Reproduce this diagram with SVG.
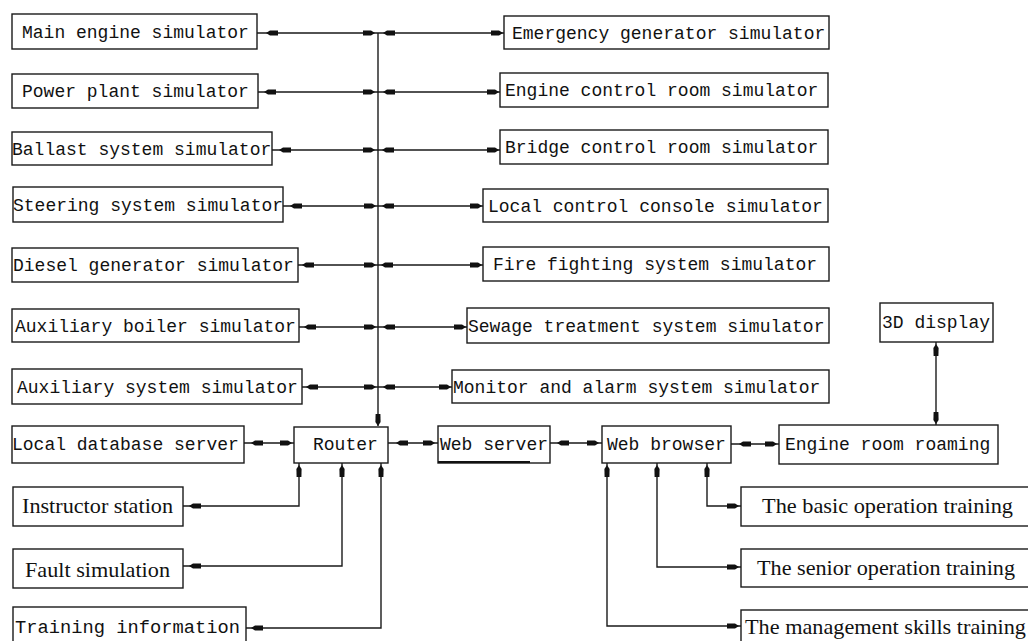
<svg xmlns="http://www.w3.org/2000/svg" xmlns:xlink="http://www.w3.org/1999/xlink" width="1028" height="641" viewBox="0 0 1028 641">
<style>
.box{fill:#fff;stroke:#1a1a1a;stroke-width:1.4}
.ln{fill:none;stroke:#1a1a1a;stroke-width:1.4}
.m{font-family:"Liberation Mono","DejaVu Sans Mono",monospace;font-size:18px;fill:#111}
.s{font-family:"Liberation Serif","Times New Roman",serif;font-size:22px;fill:#111}
</style>
<defs>
<path id="ah" d="M0,0 L-4,-2.6 L-12,-2.4 L-12,2.4 L-4,2.6 Z" fill="#111"/>
</defs>
<rect width="1028" height="641" fill="#fff"/>

<g id="connectors">
<path class="ln" d="M378,33 V426"/>
<path class="ln" d="M257,33 H378 M258,92 H378 M272,150 H378 M283,206 H378 M298,265 H378 M299,327 H378 M302,387 H378"/>
<path class="ln" d="M378,33 H504 M378,92 H500 M378,150 H500 M378,206 H483 M378,265 H483 M378,327 H467 M378,387 H452"/>
<path class="ln" d="M244,443 H294 M388,443 H438 M550,443 H602 M731,444 H779"/>
<path class="ln" d="M183,506 H299 V463 M183,566 H342 V463 M246,628 H381 V463"/>
<path class="ln" d="M707,463 V506 H741 M657,463 V567 H741 M607,463 V626 H741"/>
<path class="ln" d="M936,342 V425"/>

<use xlink:href="#ah" transform="translate(266,33) rotate(180)"/>
<use xlink:href="#ah" transform="translate(264,92) rotate(180)"/>
<use xlink:href="#ah" transform="translate(279,150) rotate(180)"/>
<use xlink:href="#ah" transform="translate(290,206) rotate(180)"/>
<use xlink:href="#ah" transform="translate(302,265) rotate(180)"/>
<use xlink:href="#ah" transform="translate(304,327) rotate(180)"/>
<use xlink:href="#ah" transform="translate(306,387) rotate(180)"/>
<use xlink:href="#ah" transform="translate(375,33)"/>
<use xlink:href="#ah" transform="translate(375,92)"/>
<use xlink:href="#ah" transform="translate(375,150)"/>
<use xlink:href="#ah" transform="translate(376,206)"/>
<use xlink:href="#ah" transform="translate(376,265)"/>
<use xlink:href="#ah" transform="translate(376,327)"/>
<use xlink:href="#ah" transform="translate(376,387)"/>
<use xlink:href="#ah" transform="translate(383,33) rotate(180)"/>
<use xlink:href="#ah" transform="translate(383,92) rotate(180)"/>
<use xlink:href="#ah" transform="translate(382,150) rotate(180)"/>
<use xlink:href="#ah" transform="translate(382,206) rotate(180)"/>
<use xlink:href="#ah" transform="translate(381,265) rotate(180)"/>
<use xlink:href="#ah" transform="translate(383,327) rotate(180)"/>
<use xlink:href="#ah" transform="translate(383,387) rotate(180)"/>
<use xlink:href="#ah" transform="translate(503,33)"/>
<use xlink:href="#ah" transform="translate(499,92)"/>
<use xlink:href="#ah" transform="translate(499,150)"/>
<use xlink:href="#ah" transform="translate(482,206)"/>
<use xlink:href="#ah" transform="translate(482,265)"/>
<use xlink:href="#ah" transform="translate(466,327)"/>
<use xlink:href="#ah" transform="translate(451,387)"/>
<use xlink:href="#ah" transform="translate(378,426) rotate(90)"/>
<use xlink:href="#ah" transform="translate(251,443) rotate(180)"/>
<use xlink:href="#ah" transform="translate(292,443)"/>
<use xlink:href="#ah" transform="translate(396,443) rotate(180)"/>
<use xlink:href="#ah" transform="translate(435,443)"/>
<use xlink:href="#ah" transform="translate(557,443) rotate(180)"/>
<use xlink:href="#ah" transform="translate(599,443)"/>
<use xlink:href="#ah" transform="translate(739,444) rotate(180)"/>
<use xlink:href="#ah" transform="translate(777,444)"/>
<use xlink:href="#ah" transform="translate(299,465) rotate(-90)"/>
<use xlink:href="#ah" transform="translate(342,465) rotate(-90)"/>
<use xlink:href="#ah" transform="translate(381,465) rotate(-90)"/>
<use xlink:href="#ah" transform="translate(189,506) rotate(180)"/>
<use xlink:href="#ah" transform="translate(189,566) rotate(180)"/>
<use xlink:href="#ah" transform="translate(251,628) rotate(180)"/>
<use xlink:href="#ah" transform="translate(607,465) rotate(-90)"/>
<use xlink:href="#ah" transform="translate(657,465) rotate(-90)"/>
<use xlink:href="#ah" transform="translate(707,465) rotate(-90)"/>
<use xlink:href="#ah" transform="translate(739,506)"/>
<use xlink:href="#ah" transform="translate(739,567)"/>
<use xlink:href="#ah" transform="translate(739,626)"/>
<use xlink:href="#ah" transform="translate(936,344) rotate(-90)"/>
<use xlink:href="#ah" transform="translate(936,424) rotate(90)"/>
</g>

<g id="n-main-engine"><rect class="box" x="12" y="14" width="245" height="35"/><text class="m" x="22" y="38">Main engine simulator</text></g>
<g id="n-power-plant"><rect class="box" x="12" y="74" width="246" height="34"/><text class="m" x="22" y="97">Power plant simulator</text></g>
<g id="n-ballast"><rect class="box" x="12" y="132" width="260" height="33"/><text class="m" x="12" y="155">Ballast system simulator</text></g>
<g id="n-steering"><rect class="box" x="13" y="187" width="270" height="35"/><text class="m" x="13" y="211">Steering system simulator</text></g>
<g id="n-diesel"><rect class="box" x="12" y="248" width="286" height="34"/><text class="m" x="13" y="271">Diesel generator simulator</text></g>
<g id="n-aux-boiler"><rect class="box" x="12" y="309" width="287" height="33"/><text class="m" x="15" y="332">Auxiliary boiler simulator</text></g>
<g id="n-aux-system"><rect class="box" x="12" y="369" width="290" height="35"/><text class="m" x="17" y="393">Auxiliary system simulator</text></g>

<g id="n-emergency"><rect class="box" x="504" y="16" width="325" height="33"/><text class="m" x="512" y="39">Emergency generator simulator</text></g>
<g id="n-engine-control"><rect class="box" x="500" y="73" width="328" height="34"/><text class="m" x="505" y="96">Engine control room simulator</text></g>
<g id="n-bridge"><rect class="box" x="500" y="130" width="328" height="34"/><text class="m" x="505" y="153">Bridge control room simulator</text></g>
<g id="n-local-control"><rect class="box" x="483" y="189" width="345" height="33"/><text class="m" x="488" y="212">Local control console simulator</text></g>
<g id="n-fire"><rect class="box" x="483" y="247" width="346" height="34"/><text class="m" x="493" y="270">Fire fighting system simulator</text></g>
<g id="n-sewage"><rect class="box" x="467" y="308" width="362" height="35"/><text class="m" x="468" y="332">Sewage treatment system simulator</text></g>
<g id="n-monitor"><rect class="box" x="452" y="370" width="377" height="33"/><text class="m" x="453" y="393">Monitor and alarm system simulator</text></g>

<g id="n-local-db"><rect class="box" x="12" y="426" width="232" height="37"/><text class="m" x="12" y="450">Local database server</text></g>
<g id="n-router"><rect class="box" x="294" y="427" width="94" height="36"/><text class="m" x="313" y="450">Router</text></g>
<g id="n-web-server"><rect class="box" x="438" y="426" width="112" height="37"/><path d="M438,462 H530" stroke="#111" stroke-width="2.2"/><text class="m" x="440" y="450">Web server</text></g>
<g id="n-web-browser"><rect class="box" x="602" y="426" width="129" height="37"/><text class="m" x="607" y="450">Web browser</text></g>
<g id="n-engine-room"><rect class="box" x="779" y="425" width="219" height="39"/><text class="m" x="785" y="450">Engine room roaming</text></g>
<g id="n-3d-display"><rect class="box" x="880" y="303" width="113" height="39"/><text class="m" x="882" y="328">3D display</text></g>

<g id="n-instructor"><rect class="box" x="13" y="487" width="170" height="39"/><text class="s" x="22" y="513" textLength="151" lengthAdjust="spacingAndGlyphs">Instructor station</text></g>
<g id="n-fault"><rect class="box" x="13" y="549" width="170" height="39"/><text class="s" x="25" y="577" textLength="145" lengthAdjust="spacingAndGlyphs">Fault simulation</text></g>
<g id="n-training-info"><rect class="box" x="13" y="607" width="233" height="40"/><text class="m" x="15" y="633" textLength="225" lengthAdjust="spacingAndGlyphs">Training information</text></g>

<g id="n-basic"><rect class="box" x="741" y="487" width="292" height="39"/><text class="s" x="762" y="513" textLength="251" lengthAdjust="spacingAndGlyphs">The basic operation training</text></g>
<g id="n-senior"><rect class="box" x="741" y="549" width="292" height="38"/><text class="s" x="757" y="575" textLength="258" lengthAdjust="spacingAndGlyphs">The senior operation training</text></g>
<g id="n-management"><rect class="box" x="741" y="610" width="292" height="40"/><text class="s" x="745" y="634" textLength="281" lengthAdjust="spacingAndGlyphs">The management skills training</text></g>
</svg>
